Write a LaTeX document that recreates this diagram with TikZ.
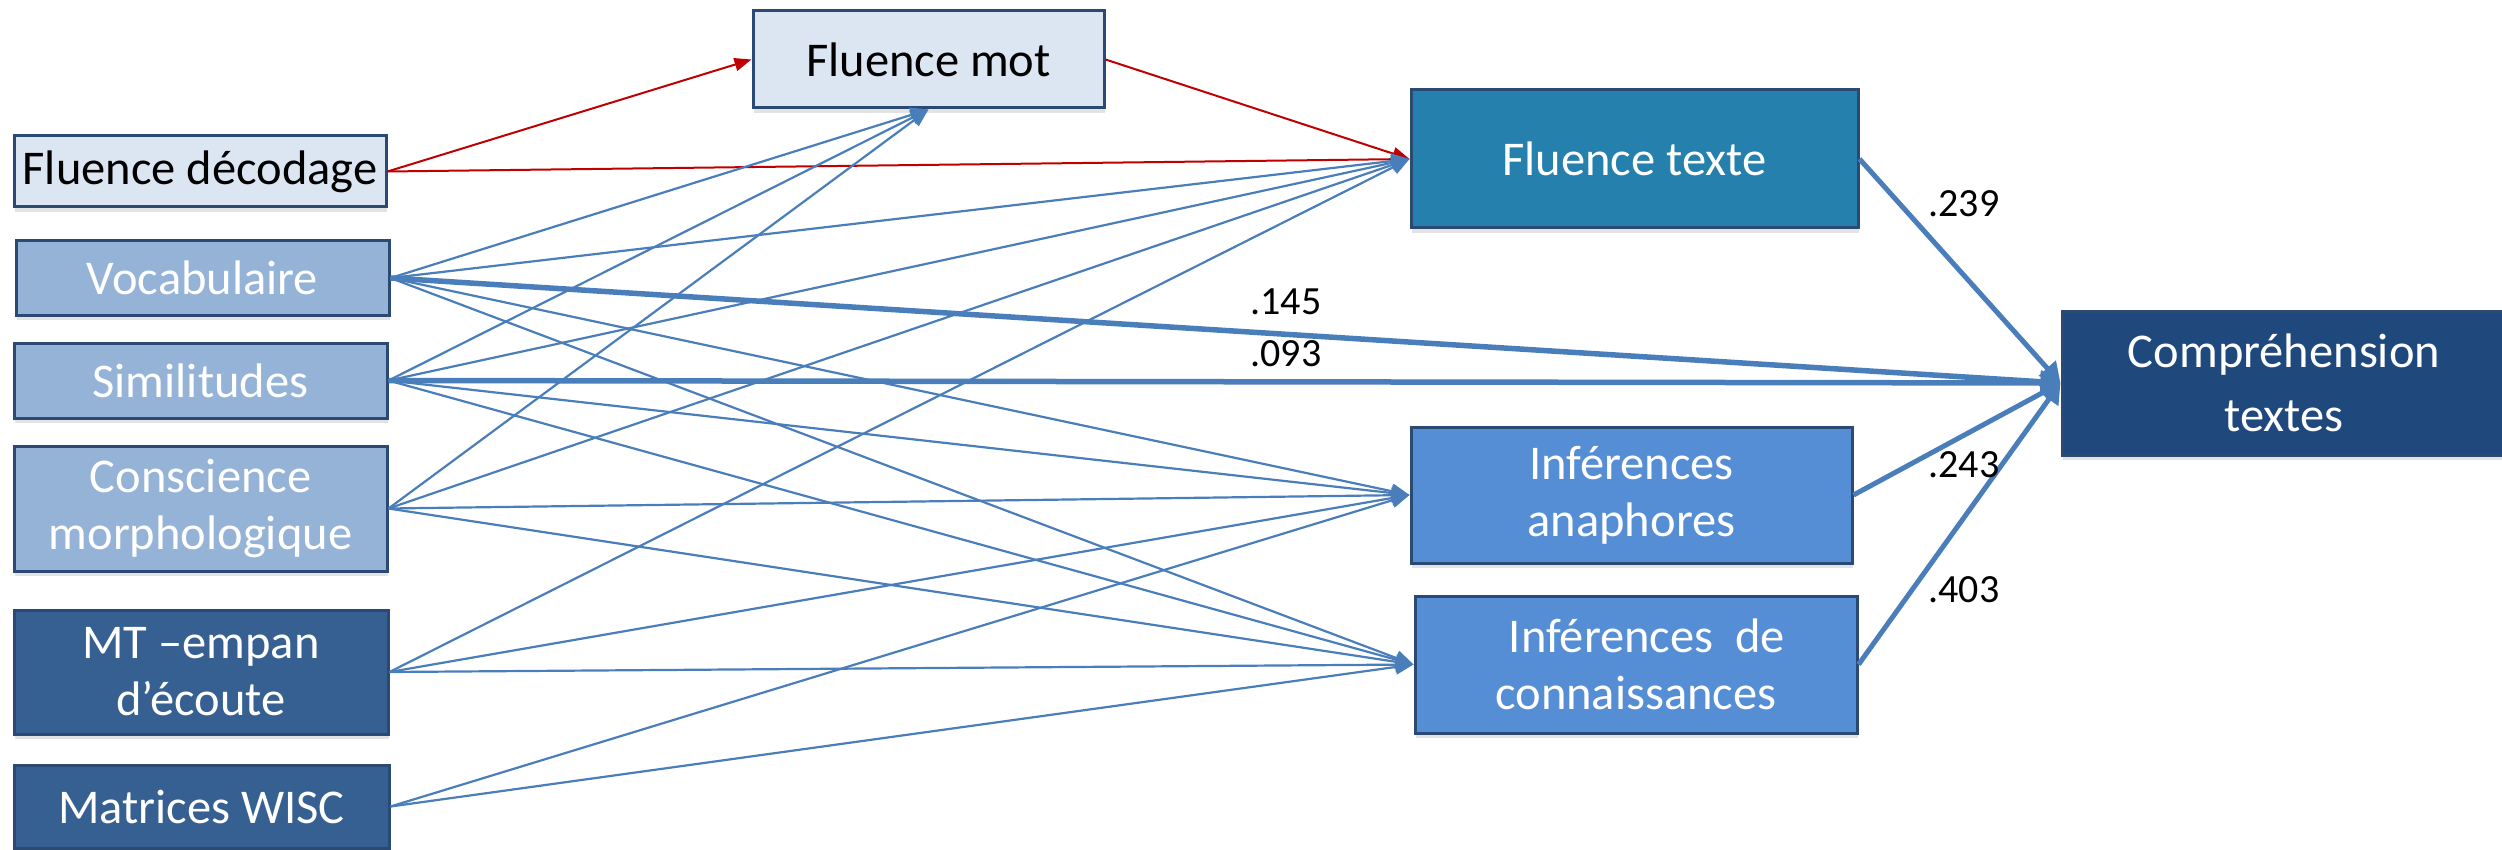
\documentclass[tikz,border=0pt]{standalone}
\usepackage{fontspec}
\setmainfont{Carlito}
\usetikzlibrary{arrows.meta,shadows}
\definecolor{lightbox}{HTML}{DCE6F2}
\definecolor{midbox}{HTML}{95B3D7}
\definecolor{darkbox}{HTML}{376092}
\definecolor{tealbox}{HTML}{2580AD}
\definecolor{infbox}{HTML}{558ED5}
\definecolor{compbox}{HTML}{1F497D}
\definecolor{edgecol}{HTML}{2A4A73}
\definecolor{linkblue}{HTML}{4A7EBB}
\definecolor{linkred}{HTML}{C00000}
\begin{document}
\begin{tikzpicture}[x=1pt,y=-1pt,
  box/.style={draw=edgecol, line width=3pt, inner sep=0pt, align=center,
    font=\fontsize{48.5}{57}\selectfont,
    drop shadow={shadow xshift=1pt, shadow yshift=-5pt, opacity=0.22}},
  lightnode/.style={box, fill=lightbox, text=black},
  midnode/.style={box, fill=midbox, text=white},
  darknode/.style={box, fill=darkbox, text=white},
  thinlink/.style={draw=linkblue, line width=2.2pt, -{Triangle[length=18pt,width=15pt]}},
  redlink/.style={draw=linkred, line width=2pt, -{Triangle[length=17pt,width=13pt]}},
  thicklink/.style={draw=linkblue, line width=5.5pt, -{Triangle[length=20pt,width=22pt]}},
  coef/.style={font=\fontsize{40}{46}\selectfont, text=black, inner sep=0pt}
]
\useasboundingbox (0,0) rectangle (2502,850);

% left column
\node[lightnode, minimum width=372pt, minimum height=71pt] (fd) at (200,171.5) {Fluence décodage};
\node[midnode, minimum width=373pt, minimum height=74pt] (voc) at (202.5,278) {Vocabulaire};
\node[midnode, minimum width=373pt, minimum height=75pt] (sim) at (200.5,380.5) {Similitudes};
\node[midnode, minimum width=373pt, minimum height=125pt] (cons) at (200.5,508.5) {Conscience\\morphologique};
\node[darknode, minimum width=374pt, minimum height=124pt] (mt) at (201,672) {MT –empan\\d’écoute};
\node[darknode, minimum width=375pt, minimum height=83pt] (wisc) at (201.5,806.5) {Matrices WISC};

% middle
\node[lightnode, minimum width=351pt, minimum height=97pt] (fm) at (928.5,59.5) {Fluence mot};
\node[box, fill=tealbox, text=white, minimum width=447pt, minimum height=138pt] (ft) at (1634.5,159) {Fluence texte};
\node[box, fill=infbox, text=white, minimum width=441pt, minimum height=136pt] (ia) at (1631.5,495) {Inférences\\anaphores};
\node[box, fill=infbox, text=white, minimum width=442pt, minimum height=137pt] (ic) at (1636,664.5) {\ \ Inférences~ de\\connaissances};

% right
\node[box, fill=compbox, text=white, minimum width=444pt, minimum height=144pt,
  font=\fontsize{48.5}{64}\selectfont] (comp) at (2284,383) {Compréhension\\textes};

% red links
\draw[redlink] (fd.east) -- (fm.west);
\draw[redlink] (fd.east) -- (ft.west);
\draw[redlink] (fm.east) -- (ft.west);

% thin blue links
\foreach \s in {voc,sim,cons} \draw[thinlink] (\s.east) -- (fm.south);
\foreach \s in {voc,sim,cons,mt} \draw[thinlink] (\s.east) -- (ft.west);
\foreach \s in {voc,sim,cons,mt,wisc} \draw[thinlink] (\s.east) -- (ia.west);
\foreach \s in {voc,sim,cons,mt,wisc} \draw[thinlink] (\s.east) -- (ic.west);

% thick links to comprehension
\draw[thicklink] (voc.east) -- (comp.west);
\draw[thicklink] (sim.east) -- (comp.west);
\draw[thicklink, line width=5pt] (ft.east) -- (comp.west);
\draw[thicklink, line width=5pt] (ia.east) -- (comp.west);
\draw[thicklink, line width=5pt] (ic.east) -- (comp.west);

% coefficients
\node[coef] (c145) at (1286,302) {.145};
\node[coef] (c093) at (1286,354) {.093};
\node[coef] (c239) at (1964,204) {.239};
\node[coef] (c243) at (1964,465) {.243};
\node[coef] (c403) at (1964,590) {.403};
\end{tikzpicture}
\end{document}
